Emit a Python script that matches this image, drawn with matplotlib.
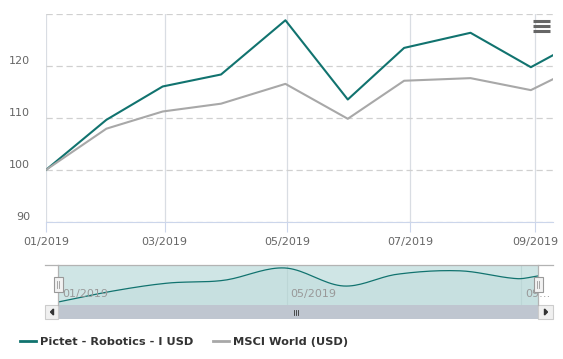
import numpy as np
import pandas as pd
import matplotlib
matplotlib.use("Agg")
import matplotlib.pyplot as plt
import matplotlib.dates as mdates
from matplotlib.lines import Line2D
from matplotlib.patches import Rectangle, Polygon

# data (indexed to 100)
dates = pd.to_datetime(["2019-01-01", "2019-01-31", "2019-02-28", "2019-03-29",
                        "2019-04-30", "2019-05-31", "2019-06-28", "2019-07-31",
                        "2019-08-30", "2019-09-10"])
robotics = [100.0, 109.6, 116.0, 118.3, 128.7, 113.5, 123.4, 126.3, 119.7, 122.0]
msci = [100.0, 107.9, 111.2, 112.7, 116.5, 109.8, 117.1, 117.6, 115.3, 117.4]
names = ["Pictet - Robotics - I USD", "MSCI World (USD)"]
y_ticks = [90, 100, 110, 120, 130]
x_ticks = pd.to_datetime(["2019-01-01", "2019-03-01", "2019-05-01", "2019-07-01", "2019-09-01"])
nav_ticks = pd.to_datetime(["2019-01-01", "2019-05-01", "2019-09-01"])

TEAL = "#11736f"
GREY = "#a8a8a8"
W, H = 563, 359


def fr(x0, y0, x1, y1):
    """pixel box -> figure rect"""
    return [x0 / W, 1 - y1 / H, (x1 - x0) / W, (y1 - y0) / H]


def smooth(x, y, n=20):
    # catmull-rom style curve through the points (navigator look)
    x = np.asarray(x, float)
    y = np.asarray(y, float)
    xs, ys = [], []
    for i in range(len(x) - 1):
        m0 = (y[i + 1] - y[max(i - 1, 0)]) / (x[i + 1] - x[max(i - 1, 0)])
        m1 = (y[min(i + 2, len(x) - 1)] - y[i]) / (x[min(i + 2, len(x) - 1)] - x[i])
        h = x[i + 1] - x[i]
        t = np.linspace(0, 1, n)
        h00 = 2 * t**3 - 3 * t**2 + 1
        h10 = t**3 - 2 * t**2 + t
        h01 = -2 * t**3 + 3 * t**2
        h11 = t**3 - t**2
        xs.append(x[i] + t * h)
        ys.append(h00 * y[i] + h10 * h * m0 + h01 * y[i + 1] + h11 * h * m1)
    return np.concatenate(xs), np.concatenate(ys)


plt.rcParams["font.family"] = "DejaVu Sans"
fig = plt.figure(figsize=(W / 100, H / 100), dpi=100)
fig.patch.set_facecolor("white")

# main chart
ax = fig.add_axes(fr(46, 13.5, 553, 222))
ax.plot(dates, robotics, color=TEAL, lw=1.5, zorder=3, label=names[0])
ax.plot(dates, msci, color=GREY, lw=1.5, zorder=3, label=names[1])
ax.set_xlim(dates[0], dates[-1])
ax.set_ylim(90, 130)
ax.set_yticks(y_ticks)
ax.set_yticklabels([str(v) if v < 130 else "" for v in y_ticks])
ax.set_xticks(x_ticks)
ax.xaxis.set_major_formatter(mdates.DateFormatter("%m/%Y"))
ax.grid(axis="y", color="#d0d0d0", ls=(0, (5, 3)), lw=0.9)
ax.grid(axis="x", color="#d9dde3", ls="-", lw=0.9)
for s in ["left", "right", "top"]:
    ax.spines[s].set_visible(False)
ax.spines["bottom"].set_color("#ccd6eb")
ax.tick_params(axis="y", length=0, pad=11.5, labelsize=8, labelcolor="#666666")
ax.tick_params(axis="x", length=7, color="#ccd6eb", pad=4, labelsize=8, labelcolor="#666666")
for lab in ax.get_yticklabels():
    lab.set_va("bottom")
ax.set_facecolor("none")

# navigator
nav = fig.add_axes(fr(58, 265, 538, 305))
nav.set_facecolor("#cfe5e5")
xn = mdates.date2num(dates)
sx, sy = smooth(xn, robotics)
nav.fill_between(sx, sy, 90, color=TEAL, alpha=0.04, lw=0)
nav.plot(sx, sy, color=TEAL, lw=0.9)
nav.set_xlim(xn[0], xn[-1])
nav.set_ylim(97.5, 131.2)
nav.set_yticks([])
nav.set_xticks(mdates.date2num(nav_ticks))
nav.tick_params(axis="x", length=0, labelbottom=False)
nav.grid(axis="x", color="#bcd6d6", lw=0.8)
for s in nav.spines.values():
    s.set_visible(False)
for d, txt in zip(nav_ticks, ["01/2019", "05/2019", "09…"]):
    nav.annotate(txt, (mdates.date2num(d), 0), xycoords=("data", "axes fraction"),
                 xytext=(3, 4), textcoords="offset points", ha="left", va="bottom",
                 fontsize=8, color="#999999")

# overlay for navigator outline, scrollbar, handles, menu icon (pixel coords)
ov = fig.add_axes([0, 0, 1, 1])
ov.set_xlim(0, W)
ov.set_ylim(H, 0)
ov.axis("off")
ov.plot([45, 553], [265, 265], color="#b3b3b3", lw=0.9)
ov.plot([58, 58], [265, 305], color="#b3b3b3", lw=0.9)
ov.plot([538, 538], [265, 305], color="#b3b3b3", lw=0.9)
ov.add_patch(Rectangle((58, 305), 480, 14, facecolor="#bfc6d0", edgecolor="none"))
for x0 in (45, 538):
    ov.add_patch(Rectangle((x0, 305), 15 if x0 == 538 else 13, 14,
                           facecolor="#f0f0f0", edgecolor="#cccccc", lw=0.8))
ov.add_patch(Polygon([[53.5, 309], [53.5, 315], [50.5, 312]], color="#333333"))
ov.add_patch(Polygon([[544.5, 309], [544.5, 315], [547.5, 312]], color="#333333"))
for gx in (294, 296, 298):
    ov.plot([gx, gx], [309.5, 314.5], color="#333333", lw=0.6)
for hx in (58, 538):
    ov.add_patch(Rectangle((hx - 4.5, 277), 9, 15, facecolor="#f2f2f2",
                           edgecolor="#999999", lw=0.8, zorder=5))
    ov.plot([hx - 1, hx - 1], [281, 288], color="#999999", lw=0.6, zorder=6)
    ov.plot([hx + 1, hx + 1], [281, 288], color="#999999", lw=0.6, zorder=6)
for by in (20.5, 25.5, 30.5):
    ov.plot([533, 550], [by, by], color="#666666", lw=2.2, solid_capstyle="butt")

# legend
handles = [Line2D([], [], color=TEAL, lw=2), Line2D([], [], color=GREY, lw=2)]
fig.legend(handles, names, loc="center left", bbox_to_anchor=(10 / W, 1 - 342 / H),
           ncol=2, frameon=False, handlelength=1.4, handletextpad=0.35,
           columnspacing=1.7, prop={"weight": "bold", "size": 8.2},
           labelcolor="#333333")

fig.savefig("out.png", dpi=100, facecolor="white")
